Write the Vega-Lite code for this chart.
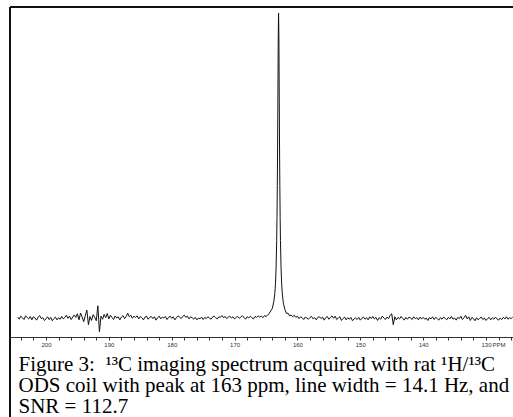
{
  "$schema": "https://vega.github.io/schema/vega-lite/v6.json",
  "autosize": {"type": "none"},
  "padding": {"left": 10, "top": 7, "right": 0, "bottom": 0},
  "width": 503,
  "height": 410,
  "background": "white",
  "config": {
    "view": {"stroke": "#111111", "strokeWidth": 2, "strokeDash": [503, 913, 410, 0]},
    "title": {"font": "Liberation Serif", "fontSize": 21, "fontWeight": "normal", "color": "black", "anchor": "start", "frame": "group", "lineHeight": 21}
  },
  "title": {
    "text": ["Figure 3:\u00a0 ¹³C imaging spectrum acquired with rat ¹H/¹³C", "ODS coil with peak at 163 ppm, line width = 14.1 Hz, and", "SNR = 112.7"],
    "orient": "bottom",
    "offset": -46,
    "dx": 8.5,
    "baseline": "alphabetic"
  },
  "data": {
    "values": [
      {"ppm": 204.5, "intensity": 0.3}, {"ppm": 204.25, "intensity": -0.4}, {"ppm": 204.0, "intensity": 0.6}, {"ppm": 203.75, "intensity": 0.1},
      {"ppm": 203.5, "intensity": -0.5}, {"ppm": 203.25, "intensity": 0.7}, {"ppm": 203.0, "intensity": 0.2}, {"ppm": 202.75, "intensity": -0.3},
      {"ppm": 202.5, "intensity": 0.5}, {"ppm": 202.25, "intensity": -0.6}, {"ppm": 202.0, "intensity": 0.4}, {"ppm": 201.75, "intensity": 0.0},
      {"ppm": 201.5, "intensity": -0.7}, {"ppm": 201.25, "intensity": 0.3}, {"ppm": 201.0, "intensity": 0.8}, {"ppm": 200.75, "intensity": -0.2},
      {"ppm": 200.5, "intensity": 0.1}, {"ppm": 200.25, "intensity": -0.8}, {"ppm": 200.0, "intensity": -0.3}, {"ppm": 199.75, "intensity": 0.4},
      {"ppm": 199.5, "intensity": -0.5}, {"ppm": 199.25, "intensity": 0.2}, {"ppm": 199.0, "intensity": -0.9}, {"ppm": 198.75, "intensity": -0.2},
      {"ppm": 198.5, "intensity": 0.3}, {"ppm": 198.25, "intensity": -0.6}, {"ppm": 198.0, "intensity": 0.1}, {"ppm": 197.75, "intensity": -0.4},
      {"ppm": 197.5, "intensity": 0.5}, {"ppm": 197.25, "intensity": -0.3}, {"ppm": 197.0, "intensity": 0.2}, {"ppm": 196.75, "intensity": 0.9},
      {"ppm": 196.5, "intensity": -0.1}, {"ppm": 196.25, "intensity": 0.6}, {"ppm": 196.0, "intensity": -0.5}, {"ppm": 195.75, "intensity": 0.3},
      {"ppm": 195.5, "intensity": 1.0}, {"ppm": 195.25, "intensity": 0.2}, {"ppm": 195.0, "intensity": 1.4}, {"ppm": 194.75, "intensity": -0.6},
      {"ppm": 194.5, "intensity": 1.6}, {"ppm": 194.25, "intensity": 0.3}, {"ppm": 194.0, "intensity": -1.2}, {"ppm": 193.75, "intensity": 0.8},
      {"ppm": 193.5, "intensity": 2.6}, {"ppm": 193.25, "intensity": -2.2}, {"ppm": 193.0, "intensity": 0.5}, {"ppm": 192.75, "intensity": -0.8},
      {"ppm": 192.5, "intensity": 1.1}, {"ppm": 192.25, "intensity": 0.2}, {"ppm": 192.0, "intensity": -0.9}, {"ppm": 191.75, "intensity": 4.0},
      {"ppm": 191.5, "intensity": -4.5}, {"ppm": 191.25, "intensity": 0.6}, {"ppm": 191.0, "intensity": -0.4}, {"ppm": 190.75, "intensity": 1.2},
      {"ppm": 190.5, "intensity": 0.1}, {"ppm": 190.25, "intensity": 1.5}, {"ppm": 190.0, "intensity": -0.3}, {"ppm": 189.75, "intensity": 0.9},
      {"ppm": 189.5, "intensity": 0.2}, {"ppm": 189.25, "intensity": -0.5}, {"ppm": 189.0, "intensity": 0.7}, {"ppm": 188.75, "intensity": 0.0},
      {"ppm": 188.5, "intensity": 0.4}, {"ppm": 188.25, "intensity": -0.6}, {"ppm": 188.0, "intensity": 0.3}, {"ppm": 187.75, "intensity": 0.8},
      {"ppm": 187.5, "intensity": -0.2}, {"ppm": 187.25, "intensity": 0.5}, {"ppm": 187.0, "intensity": 1.6}, {"ppm": 186.75, "intensity": 0.4},
      {"ppm": 186.5, "intensity": 0.9}, {"ppm": 186.25, "intensity": -0.1}, {"ppm": 186.0, "intensity": 0.6}, {"ppm": 185.75, "intensity": 0.2},
      {"ppm": 185.5, "intensity": 0.7}, {"ppm": 185.25, "intensity": -0.3}, {"ppm": 185.0, "intensity": 0.5}, {"ppm": 184.75, "intensity": 0.1},
      {"ppm": 184.5, "intensity": -0.6}, {"ppm": 184.25, "intensity": 0.3}, {"ppm": 184.0, "intensity": 0.6}, {"ppm": 183.75, "intensity": -0.4},
      {"ppm": 183.5, "intensity": 0.2}, {"ppm": 183.25, "intensity": 0.5}, {"ppm": 183.0, "intensity": -0.2}, {"ppm": 182.75, "intensity": 0.4},
      {"ppm": 182.5, "intensity": -0.7}, {"ppm": 182.25, "intensity": 0.1}, {"ppm": 182.0, "intensity": 0.6}, {"ppm": 181.75, "intensity": -0.3},
      {"ppm": 181.5, "intensity": 0.3}, {"ppm": 181.25, "intensity": 0.0}, {"ppm": 181.0, "intensity": 0.5}, {"ppm": 180.75, "intensity": -0.5},
      {"ppm": 180.5, "intensity": 0.2}, {"ppm": 180.25, "intensity": 0.6}, {"ppm": 180.0, "intensity": -0.1}, {"ppm": 179.75, "intensity": 0.4},
      {"ppm": 179.5, "intensity": -0.6}, {"ppm": 179.25, "intensity": 0.1}, {"ppm": 179.0, "intensity": 0.7}, {"ppm": 178.75, "intensity": 0.3},
      {"ppm": 178.5, "intensity": -0.2}, {"ppm": 178.25, "intensity": 0.5}, {"ppm": 178.0, "intensity": 0.9}, {"ppm": 177.75, "intensity": 0.2},
      {"ppm": 177.5, "intensity": 0.6}, {"ppm": 177.25, "intensity": -0.3}, {"ppm": 177.0, "intensity": 0.4}, {"ppm": 176.75, "intensity": 0.1},
      {"ppm": 176.5, "intensity": -0.4}, {"ppm": 176.25, "intensity": 0.2}, {"ppm": 176.0, "intensity": -0.6}, {"ppm": 175.75, "intensity": 0.0},
      {"ppm": 175.5, "intensity": -0.3}, {"ppm": 175.25, "intensity": 0.3}, {"ppm": 175.0, "intensity": -0.5}, {"ppm": 174.75, "intensity": 0.2},
      {"ppm": 174.5, "intensity": -0.2}, {"ppm": 174.25, "intensity": 0.4}, {"ppm": 174.0, "intensity": 0.0}, {"ppm": 173.75, "intensity": -0.4},
      {"ppm": 173.5, "intensity": 0.3}, {"ppm": 173.25, "intensity": 0.6}, {"ppm": 173.0, "intensity": 0.1}, {"ppm": 172.75, "intensity": -0.3},
      {"ppm": 172.5, "intensity": 0.4}, {"ppm": 172.25, "intensity": 0.2}, {"ppm": 172.0, "intensity": 0.8}, {"ppm": 171.75, "intensity": 0.1},
      {"ppm": 171.5, "intensity": 0.5}, {"ppm": 171.25, "intensity": -0.2}, {"ppm": 171.0, "intensity": 0.3}, {"ppm": 170.75, "intensity": 0.6},
      {"ppm": 170.5, "intensity": 0.0}, {"ppm": 170.25, "intensity": 0.4}, {"ppm": 170.0, "intensity": -0.3}, {"ppm": 169.75, "intensity": 0.2},
      {"ppm": 169.5, "intensity": 0.5}, {"ppm": 169.25, "intensity": -0.1}, {"ppm": 169.0, "intensity": 0.3}, {"ppm": 168.75, "intensity": 0.7},
      {"ppm": 168.5, "intensity": 0.2}, {"ppm": 168.25, "intensity": -0.4}, {"ppm": 168.0, "intensity": 0.4}, {"ppm": 167.75, "intensity": 0.0},
      {"ppm": 167.5, "intensity": 0.6}, {"ppm": 167.25, "intensity": 0.1}, {"ppm": 167.0, "intensity": -0.3}, {"ppm": 166.75, "intensity": 0.5},
      {"ppm": 166.5, "intensity": 0.2}, {"ppm": 166.25, "intensity": 0.7}, {"ppm": 166.0, "intensity": 0.3}, {"ppm": 165.75, "intensity": 0.6},
      {"ppm": 165.5, "intensity": 0.1}, {"ppm": 165.25, "intensity": 0.8}, {"ppm": 165.0, "intensity": 0.5}, {"ppm": 164.75, "intensity": 0.9},
      {"ppm": 164.5, "intensity": 1.5}, {"ppm": 164.25, "intensity": 2.3}, {"ppm": 164.0, "intensity": 3.1}, {"ppm": 163.75, "intensity": 5.5},
      {"ppm": 163.6, "intensity": 8.0}, {"ppm": 163.5, "intensity": 10.9}, {"ppm": 163.4, "intensity": 16.1}, {"ppm": 163.3, "intensity": 25.4},
      {"ppm": 163.25, "intensity": 32.9}, {"ppm": 163.2, "intensity": 43.4}, {"ppm": 163.15, "intensity": 57.7}, {"ppm": 163.1, "intensity": 75.4},
      {"ppm": 163.05, "intensity": 92.5}, {"ppm": 163.0, "intensity": 100}, {"ppm": 162.95, "intensity": 92.5}, {"ppm": 162.9, "intensity": 75.4},
      {"ppm": 162.85, "intensity": 57.7}, {"ppm": 162.8, "intensity": 43.4}, {"ppm": 162.75, "intensity": 32.9}, {"ppm": 162.7, "intensity": 25.4},
      {"ppm": 162.6, "intensity": 16.1}, {"ppm": 162.5, "intensity": 10.9}, {"ppm": 162.4, "intensity": 7.8}, {"ppm": 162.25, "intensity": 5.0},
      {"ppm": 162.0, "intensity": 2.8}, {"ppm": 161.75, "intensity": 1.5}, {"ppm": 161.5, "intensity": 1.6}, {"ppm": 161.25, "intensity": 0.7},
      {"ppm": 161.0, "intensity": 1.0}, {"ppm": 160.75, "intensity": 0.4}, {"ppm": 160.5, "intensity": 0.9}, {"ppm": 160.25, "intensity": 0.2},
      {"ppm": 160.0, "intensity": 0.6}, {"ppm": 159.75, "intensity": -0.2}, {"ppm": 159.5, "intensity": 0.4}, {"ppm": 159.25, "intensity": 0.1},
      {"ppm": 159.0, "intensity": -0.5}, {"ppm": 158.75, "intensity": 0.3}, {"ppm": 158.5, "intensity": 0.0}, {"ppm": 158.25, "intensity": -0.4},
      {"ppm": 158.0, "intensity": 0.2}, {"ppm": 157.75, "intensity": 0.5}, {"ppm": 157.5, "intensity": -0.3}, {"ppm": 157.25, "intensity": 0.1},
      {"ppm": 157.0, "intensity": -0.6}, {"ppm": 156.75, "intensity": 0.2}, {"ppm": 156.5, "intensity": 0.4}, {"ppm": 156.25, "intensity": -0.2},
      {"ppm": 156.0, "intensity": 0.3}, {"ppm": 155.75, "intensity": -0.7}, {"ppm": 155.5, "intensity": 0.1}, {"ppm": 155.25, "intensity": 0.5},
      {"ppm": 155.0, "intensity": -0.4}, {"ppm": 154.75, "intensity": 0.2}, {"ppm": 154.5, "intensity": 0.7}, {"ppm": 154.25, "intensity": -0.1},
      {"ppm": 154.0, "intensity": 0.6}, {"ppm": 153.75, "intensity": -0.5}, {"ppm": 153.5, "intensity": 0.0}, {"ppm": 153.25, "intensity": 0.4},
      {"ppm": 153.0, "intensity": -0.8}, {"ppm": 152.75, "intensity": -0.2}, {"ppm": 152.5, "intensity": 0.3}, {"ppm": 152.25, "intensity": -0.6},
      {"ppm": 152.0, "intensity": 0.1}, {"ppm": 151.75, "intensity": -0.4}, {"ppm": 151.5, "intensity": 0.2}, {"ppm": 151.25, "intensity": -0.9},
      {"ppm": 151.0, "intensity": -0.3}, {"ppm": 150.75, "intensity": 0.0}, {"ppm": 150.5, "intensity": -0.5}, {"ppm": 150.25, "intensity": 0.2},
      {"ppm": 150.0, "intensity": -0.7}, {"ppm": 149.75, "intensity": -0.1}, {"ppm": 149.5, "intensity": 0.3}, {"ppm": 149.25, "intensity": -0.4},
      {"ppm": 149.0, "intensity": 0.1}, {"ppm": 148.75, "intensity": -0.6}, {"ppm": 148.5, "intensity": 0.4}, {"ppm": 148.25, "intensity": -0.2},
      {"ppm": 148.0, "intensity": 0.5}, {"ppm": 147.75, "intensity": -0.3}, {"ppm": 147.5, "intensity": 0.2}, {"ppm": 147.25, "intensity": -0.8},
      {"ppm": 147.0, "intensity": 0.1}, {"ppm": 146.75, "intensity": -0.4}, {"ppm": 146.5, "intensity": 0.6}, {"ppm": 146.25, "intensity": 0.0},
      {"ppm": 146.0, "intensity": -0.5}, {"ppm": 145.75, "intensity": 0.3}, {"ppm": 145.5, "intensity": -0.2}, {"ppm": 145.25, "intensity": 0.9},
      {"ppm": 145.0, "intensity": 1.4}, {"ppm": 144.75, "intensity": -2.2}, {"ppm": 144.5, "intensity": 0.4}, {"ppm": 144.25, "intensity": -0.6},
      {"ppm": 144.0, "intensity": 0.2}, {"ppm": 143.75, "intensity": -0.3}, {"ppm": 143.5, "intensity": 0.5}, {"ppm": 143.25, "intensity": -0.1},
      {"ppm": 143.0, "intensity": -0.7}, {"ppm": 142.75, "intensity": 0.2}, {"ppm": 142.5, "intensity": -0.4}, {"ppm": 142.25, "intensity": 0.3},
      {"ppm": 142.0, "intensity": 0.0}, {"ppm": 141.75, "intensity": -0.5}, {"ppm": 141.5, "intensity": 0.4}, {"ppm": 141.25, "intensity": -0.2},
      {"ppm": 141.0, "intensity": 0.1}, {"ppm": 140.75, "intensity": -0.6}, {"ppm": 140.5, "intensity": 0.3}, {"ppm": 140.25, "intensity": -0.3},
      {"ppm": 140.0, "intensity": 0.2}, {"ppm": 139.75, "intensity": -0.4}, {"ppm": 139.5, "intensity": 0.0}, {"ppm": 139.25, "intensity": -0.8},
      {"ppm": 139.0, "intensity": 0.1}, {"ppm": 138.75, "intensity": -0.3}, {"ppm": 138.5, "intensity": 0.4}, {"ppm": 138.25, "intensity": -0.5},
      {"ppm": 138.0, "intensity": 0.2}, {"ppm": 137.75, "intensity": -0.2}, {"ppm": 137.5, "intensity": -0.7}, {"ppm": 137.25, "intensity": 0.1},
      {"ppm": 137.0, "intensity": -0.4}, {"ppm": 136.75, "intensity": 0.3}, {"ppm": 136.5, "intensity": -0.1}, {"ppm": 136.25, "intensity": -0.6},
      {"ppm": 136.0, "intensity": 0.2}, {"ppm": 135.75, "intensity": -0.3}, {"ppm": 135.5, "intensity": 0.5}, {"ppm": 135.25, "intensity": -0.4},
      {"ppm": 135.0, "intensity": 0.0}, {"ppm": 134.75, "intensity": -0.7}, {"ppm": 134.5, "intensity": 0.2}, {"ppm": 134.25, "intensity": -0.2},
      {"ppm": 134.0, "intensity": 0.6}, {"ppm": 133.75, "intensity": -0.5}, {"ppm": 133.5, "intensity": 0.1}, {"ppm": 133.25, "intensity": 0.9},
      {"ppm": 133.0, "intensity": -0.3}, {"ppm": 132.75, "intensity": 0.4}, {"ppm": 132.5, "intensity": -0.8}, {"ppm": 132.25, "intensity": 0.2},
      {"ppm": 132.0, "intensity": -0.2}, {"ppm": 131.75, "intensity": -0.9}, {"ppm": 131.5, "intensity": 0.1}, {"ppm": 131.25, "intensity": -0.6},
      {"ppm": 131.0, "intensity": -0.1}, {"ppm": 130.75, "intensity": 0.3}, {"ppm": 130.5, "intensity": -0.5}, {"ppm": 130.25, "intensity": 0.0},
      {"ppm": 130.0, "intensity": -0.8}, {"ppm": 129.75, "intensity": -0.2}, {"ppm": 129.5, "intensity": 0.2}, {"ppm": 129.25, "intensity": -0.6},
      {"ppm": 129.0, "intensity": 0.1}, {"ppm": 128.75, "intensity": -0.4}, {"ppm": 128.5, "intensity": 0.3}, {"ppm": 128.25, "intensity": -0.3},
      {"ppm": 128.0, "intensity": -0.7}, {"ppm": 127.75, "intensity": 0.0}, {"ppm": 127.5, "intensity": -0.5}, {"ppm": 127.25, "intensity": 0.2},
      {"ppm": 127.0, "intensity": -0.3}, {"ppm": 126.75, "intensity": 0.4}, {"ppm": 126.5, "intensity": -0.4}, {"ppm": 126.25, "intensity": 0.1},
      {"ppm": 126.0, "intensity": -0.2}, {"ppm": 125.75, "intensity": 0.3}
    ]
  },
  "mark": {"type": "line", "color": "#111111", "strokeWidth": 1, "interpolate": "linear"},
  "encoding": {
    "x": {
      "field": "ppm", "type": "quantitative",
      "scale": {"domain": [125.705, 205.727], "reverse": true, "nice": false, "zero": false},
      "axis": {
        "title": null,
        "orient": "bottom",
        "offset": -80,
        "values": [204, 202, 200, 198, 196, 194, 192, 190, 188, 186, 184, 182, 180, 178, 176, 174, 172, 170, 168, 166, 164, 162, 160, 158, 156, 154, 152, 150, 148, 146, 144, 142, 140, 138, 136, 134, 132, 130, 128, 126],
        "labelExpr": "datum.value % 10 === 0 ? datum.label : (datum.value === 128 ? 'PPM' : '')",
        "labelFont": "Liberation Sans",
        "labelFontSize": 6,
        "labelColor": "#333333",
        "labelPadding": 1,
        "labelFlush": false,
        "labelOverlap": false,
        "grid": false,
        "domain": true,
        "domainColor": "#333333",
        "domainWidth": 1,
        "tickColor": "#333333",
        "tickWidth": 1,
        "tickSize": 3
      }
    },
    "y": {
      "field": "intensity", "type": "quantitative",
      "scale": {"domain": [-32.46, 101.97], "nice": false, "zero": false},
      "axis": null
    }
  }
}
